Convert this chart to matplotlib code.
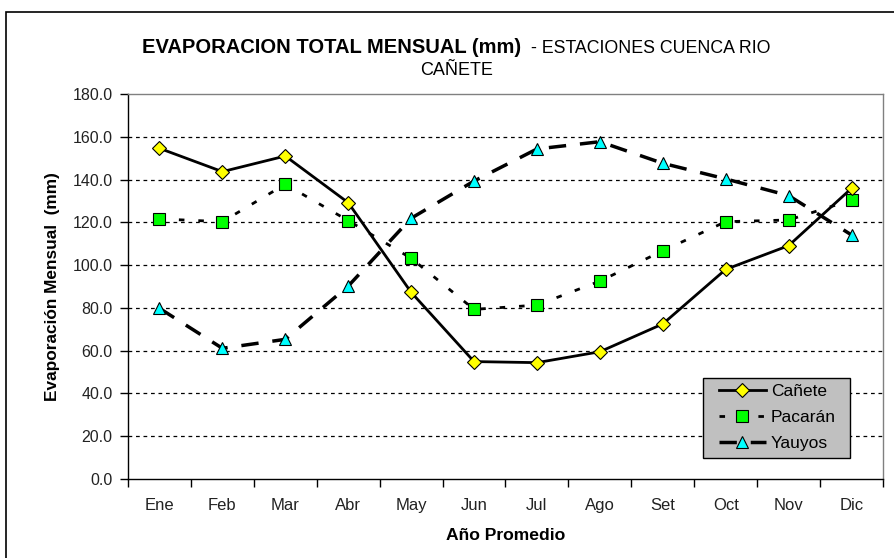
import matplotlib
matplotlib.use("Agg")
import matplotlib.pyplot as plt
from matplotlib.patches import Rectangle

plt.rcParams['font.family'] = ['Liberation Sans', 'DejaVu Sans']

# monthly average evaporation (mm)
meses = ['Ene', 'Feb', 'Mar', 'Abr', 'May', 'Jun', 'Jul', 'Ago', 'Set', 'Oct', 'Nov', 'Dic']
canete = [154.6, 143.7, 151.0, 129.2, 87.3, 54.9, 54.4, 59.5, 72.5, 98.0, 109.1, 135.9]
pacaran = [121.6, 120.3, 137.8, 120.8, 103.2, 79.3, 81.3, 92.5, 106.7, 120.3, 121.1, 130.4]
yauyos = [79.8, 61.1, 65.3, 90.2, 121.9, 139.3, 154.3, 157.7, 147.6, 140.3, 132.5, 114.1]
yticks = [0, 20, 40, 60, 80, 100, 120, 140, 160, 180]

W, H = 895, 558
fig = plt.figure(figsize=(W / 100, H / 100), dpi=100)

# outer chart border
fig.patches.append(Rectangle((6 / W, -0.1), 1.2, 1 - 12 / H + 0.1, transform=fig.transFigure,
                             fill=False, edgecolor='black', linewidth=1.2))

ax = fig.add_axes([128 / W, 1 - 479 / H, (883 - 128) / W, (479 - 94) / H])
x = list(range(len(meses)))

ax.plot(x, canete, color='black', lw=2, linestyle='-', marker='D', ms=7,
        mfc='#FFFF00', mec='black', mew=0.8, label='Cañete', zorder=5)
ax.plot(x, pacaran, color='black', lw=2, linestyle=(0, (2, 5)), marker='s', ms=8,
        mfc='#00FF00', mec='black', mew=0.8, label='Pacarán', zorder=4)
ax.plot(x, yauyos, color='black', lw=2.5, linestyle=(0, (5, 4)), marker='^', ms=9,
        mfc='#00FFFF', mec='black', mew=0.8, label='Yauyos', zorder=3)

ax.set_xlim(-0.5, len(meses) - 0.5)
ax.set_ylim(0, 180)
ax.set_yticks(yticks)
ax.set_yticklabels([f'{v:.1f}' for v in yticks], fontsize=11.5, color='#222222')
ax.set_xticks(x)
ax.set_xticklabels(meses, fontsize=12, color='#222222')
ax.set_xticks([i + 0.5 for i in range(-1, len(meses))], minor=True)
ax.tick_params(axis='x', which='major', length=0, pad=14)
ax.tick_params(axis='x', which='minor', length=6, direction='out', width=1)
ax.tick_params(axis='y', length=6, direction='out', width=1, pad=5)

for v in yticks[1:-1]:
    ax.axhline(v, color='black', lw=0.9, linestyle=(0, (3, 3)), zorder=1)

for s in ['left', 'bottom']:
    ax.spines[s].set_color('black')
    ax.spines[s].set_linewidth(1)
for s in ['top', 'right']:
    ax.spines[s].set_color('#808080')
    ax.spines[s].set_linewidth(1)

# title, bold part + regular part
fig.text(142 / W, 1 - 52.7 / H, 'EVAPORACION TOTAL MENSUAL (mm)', fontsize=14.5,
         fontweight='bold', ha='left', va='baseline')
fig.text(531 / W, 1 - 52.7 / H, '- ESTACIONES CUENCA RIO', fontsize=12.8,
         ha='left', va='baseline')
fig.text(457 / W, 1 - 75 / H, 'CAÑETE', fontsize=13, ha='center', va='baseline')

fig.text(53 / W, 1 - 287 / H, 'Evaporación Mensual  (mm)', fontsize=12.4, fontweight='bold',
         rotation=90, ha='center', va='center')
fig.text(505.5 / W, 1 - 539.5 / H, 'Año Promedio', fontsize=12.6, fontweight='bold',
         ha='center', va='baseline')

# legend box drawn separately so its padding matches
ax.add_patch(Rectangle((703 / W, 1 - 458 / H), 147 / W, 80 / H, transform=fig.transFigure,
                       facecolor='#C0C0C0', edgecolor='black', lw=1, clip_on=False, zorder=8))
leg = ax.legend(loc='upper left', bbox_to_anchor=(719 / W, 1 - 384 / H),
                bbox_transform=fig.transFigure, borderaxespad=0, borderpad=0, fontsize=12.5,
                frameon=False, handlelength=2.7, handletextpad=0.3, labelspacing=0.62)
leg.set_zorder(10)

fig.savefig('out.png', dpi=100)
